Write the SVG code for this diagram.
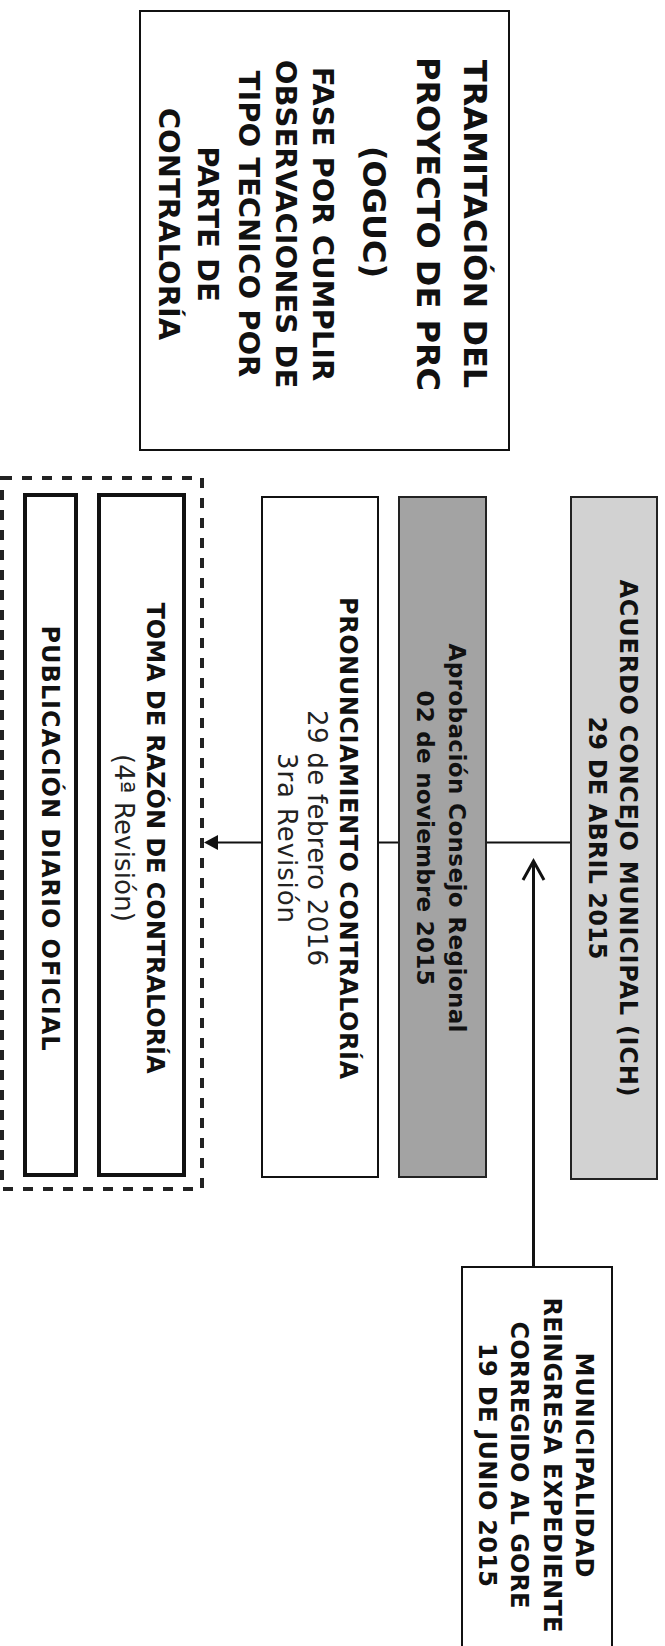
<svg xmlns="http://www.w3.org/2000/svg" width="665" height="1646" viewBox="0 0 665 1646">
<style>
.box{fill:#fff;stroke:#111;stroke-width:2}
.thick{fill:#fff;stroke:#111;stroke-width:4}
.light{fill:#d2d2d2;stroke:#222;stroke-width:2}
.dark{fill:#a3a3a3;stroke:#222;stroke-width:2}
.b{font-family:"DejaVu Sans",Verdana,sans-serif;font-weight:bold;fill:#111;text-anchor:middle}
.r{font-family:"DejaVu Sans",Verdana,sans-serif;font-weight:normal;fill:#222;text-anchor:middle}
.conn{fill:none;stroke:#111}
</style>
<g id="connectors">
<line class="conn" x1="571" y1="842.5" x2="216" y2="842.5" stroke-width="2"/>
<polygon points="204,842.5 218,835 218,850" fill="#111"/>
<line class="conn" x1="533.5" y1="1267" x2="533.5" y2="862" stroke-width="3"/>
<polyline class="conn" points="523,880 533.5,861 544,880" stroke-width="3"/>
</g>
<g id="titulo">
<rect class="box" x="140" y="11" width="369" height="439"/>
<g transform="translate(324.5,224) rotate(90)">
<text class="b" font-size="32" x="0" y="-139.8">TRAMITACIÓN DEL</text>
<text class="b" font-size="32" x="0" y="-92.8">PROYECTO DE PRC</text>
<text class="b" font-size="32" x="-12" y="-38.8">(OGUC)</text>
<text class="b" font-size="29" x="0" y="11.1">FASE POR CUMPLIR</text>
<text class="b" font-size="29" x="0" y="48.1">OBSERVACIONES DE</text>
<text class="b" font-size="29" x="0" y="85.1">TIPO  TECNICO POR</text>
<text class="b" font-size="29" x="0" y="126.1">PARTE DE</text>
<text class="b" font-size="29" x="0" y="165.1">CONTRALORÍA</text>
</g>
</g>
<g id="acuerdo">
<rect class="light" x="571" y="497" width="86" height="682"/>
<g transform="translate(614,838) rotate(90)">
<text class="b" font-size="24" x="0" y="-6.2" textLength="517">ACUERDO CONCEJO MUNICIPAL (ICH)</text>
<text class="b" font-size="24" x="0" y="24.8" textLength="243">29 DE ABRIL 2015</text>
</g>
</g>
<g id="aprobacion">
<rect class="dark" x="399" y="497" width="87" height="680"/>
<g transform="translate(442.5,838) rotate(90)">
<text class="b" font-size="23" x="0" y="-6.5" textLength="389">Aprobación Consejo Regional</text>
<text class="b" font-size="23" x="0" y="25.5" textLength="295">02 de noviembre 2015</text>
</g>
</g>
<g id="pronunciamiento">
<rect class="box" x="262" y="497" width="116" height="680"/>
<g transform="translate(320,838) rotate(90)">
<text class="b" font-size="24" x="0" y="-20" textLength="482">PRONUNCIAMIENTO CONTRALORÍA</text>
<text class="r" font-size="26" x="0" y="12" textLength="256">29 de febrero 2016</text>
<text class="r" font-size="26" x="0" y="42" textLength="170">3ra Revisión</text>
</g>
</g>
<g id="fase-final">
<rect x="2" y="478" width="200" height="711" fill="none" stroke="#222" stroke-width="4" stroke-dasharray="10 10"/>
</g>
<g id="toma-razon">
<rect class="thick" x="99" y="495" width="85" height="680"/>
<g transform="translate(141.5,838) rotate(90)">
<text class="b" font-size="24" x="0" y="-5.5" textLength="471">TOMA DE RAZÓN DE CONTRALORÍA</text>
<text class="r" font-size="26" x="0" y="26.5" textLength="168">(4ª Revisión)</text>
</g>
</g>
<g id="publicacion">
<rect class="thick" x="25" y="495" width="51" height="680"/>
<g transform="translate(50.5,838) rotate(90)">
<text class="b" font-size="24" x="0" y="9" textLength="425">PUBLICACIÓN DIARIO OFICIAL</text>
</g>
</g>
<g id="municipalidad">
<rect class="box" x="462" y="1267" width="150" height="390"/>
<g transform="translate(537,1465) rotate(90)">
<text class="b" font-size="24" x="0" y="-39.2" textLength="225">MUNICIPALIDAD</text>
<text class="b" font-size="24" x="0" y="-7.2" textLength="335">REINGRESA EXPEDIENTE</text>
<text class="b" font-size="24" x="0" y="25.8" textLength="287">CORREGIDO AL GORE</text>
<text class="b" font-size="24" x="0" y="57.8" textLength="244" fill="#333">19 DE JUNIO 2015</text>
</g>
</g>
</svg>
